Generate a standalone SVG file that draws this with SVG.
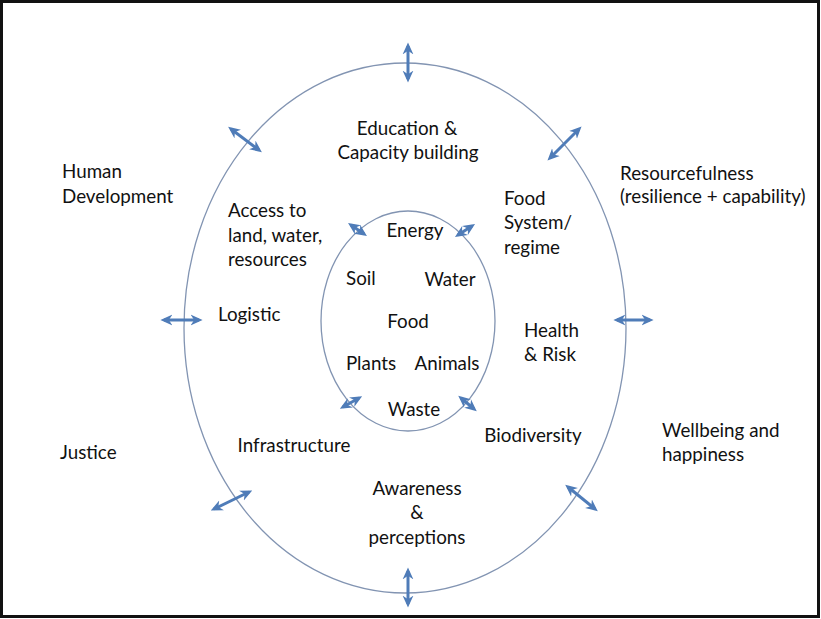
<svg xmlns="http://www.w3.org/2000/svg" width="821" height="619" viewBox="0 0 821 619">
<style>
.t{font-family:Lato,"Open Sans","Liberation Sans",sans-serif;font-size:18.8px;fill:#111}
.m{text-anchor:middle}
.ring{fill:none;stroke:#8294b2;stroke-width:1.3}
.arr{fill:none;stroke:#4f7cb8;stroke-width:3;marker-start:url(#ah);marker-end:url(#ah)}
</style>
<defs>
<marker id="ah" viewBox="0 0 10 10" refX="7" refY="5" markerWidth="12" markerHeight="12" markerUnits="userSpaceOnUse" orient="auto-start-reverse">
<path d="M0,0.5 L10,5 L0,9.5 L3,5 z" fill="#4f7cb8"/>
</marker>
</defs>
<rect x="1.5" y="1.5" width="817" height="615" fill="#fff" stroke="#111" stroke-width="3"/>
<g id="outer-ring"><ellipse class="ring" cx="405" cy="328" rx="221" ry="265"/></g>
<g id="inner-ring"><ellipse class="ring" cx="408" cy="321" rx="87" ry="110"/></g>
<g id="connectors">
<line class="arr" x1="408" y1="46" x2="408" y2="79"/>
<line class="arr" x1="408" y1="571" x2="408" y2="604"/>
<line class="arr" x1="164" y1="320" x2="199" y2="320"/>
<line class="arr" x1="617" y1="320" x2="650" y2="320"/>
<line class="arr" x1="231" y1="129" x2="259" y2="150"/>
<line class="arr" x1="579" y1="129" x2="550" y2="158"/>
<line class="arr" x1="214" y1="509" x2="249" y2="492"/>
<line class="arr" x1="568" y1="487" x2="595" y2="509"/>
<line class="arr" x1="351" y1="225" x2="364" y2="234"/>
<line class="arr" x1="472" y1="226" x2="458" y2="235"/>
<line class="arr" x1="359" y1="398" x2="343" y2="407"/>
<line class="arr" x1="461" y1="398" x2="474" y2="409"/>
</g>
<g id="education"><text class="t m" x="407" y="135">Education &amp;</text><text class="t m" x="408" y="159">Capacity building</text></g>
<g id="human-development"><text class="t" x="62" y="178">Human</text><text class="t" x="62" y="203">Development</text></g>
<g id="resourcefulness"><text class="t" x="620" y="180">Resourcefulness</text><text class="t" x="620" y="203">(resilience + capability)</text></g>
<g id="access"><text class="t" x="228" y="217">Access to</text><text class="t" x="228" y="242">land, water,</text><text class="t" x="228" y="266">resources</text></g>
<g id="food-system"><text class="t" x="504" y="205">Food</text><text class="t" x="504" y="229">System/</text><text class="t" x="504" y="254">regime</text></g>
<g id="energy"><text class="t m" x="415" y="237">Energy</text></g>
<g id="soil"><text class="t" x="346" y="285">Soil</text></g>
<g id="water"><text class="t m" x="450" y="286">Water</text></g>
<g id="food"><text class="t m" x="408" y="328">Food</text></g>
<g id="logistic"><text class="t" x="218" y="321">Logistic</text></g>
<g id="health"><text class="t" x="524" y="337">Health</text><text class="t" x="524" y="361">&amp; Risk</text></g>
<g id="plants"><text class="t m" x="371" y="370">Plants</text></g>
<g id="animals"><text class="t m" x="447" y="370">Animals</text></g>
<g id="waste"><text class="t m" x="414" y="416">Waste</text></g>
<g id="justice"><text class="t" x="60" y="459">Justice</text></g>
<g id="infrastructure"><text class="t m" x="294" y="452">Infrastructure</text></g>
<g id="biodiversity"><text class="t m" x="533" y="442">Biodiversity</text></g>
<g id="wellbeing"><text class="t" x="662" y="437">Wellbeing and</text><text class="t" x="662" y="461">happiness</text></g>
<g id="awareness"><text class="t m" x="417" y="495">Awareness</text><text class="t m" x="417" y="519">&amp;</text><text class="t m" x="417" y="544">perceptions</text></g>
</svg>
